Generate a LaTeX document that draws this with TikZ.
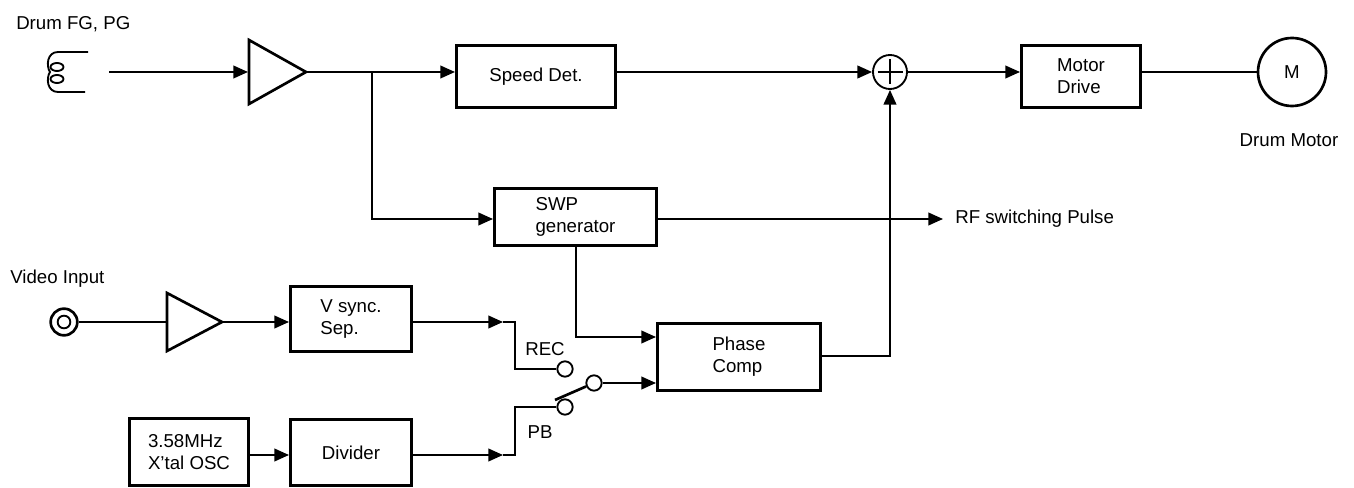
\documentclass[tikz,border=0pt]{standalone}
\usepackage{fontspec}
\setmainfont{Liberation Sans}
\usetikzlibrary{arrows.meta,calc}
\tikzset{
  legend/.style={font=\fontsize{14}{16.5}\selectfont},
  blockbox/.style={draw,line width=2pt,align=left,legend},
  ampbody/.style={draw,line width=2pt},
  wire/.style={line width=1.4pt},
  feed/.style={wire,-{Triangle[length=11pt,width=9.5pt]}},
  contact/.style={draw,circle,line width=1.4pt,fill=white,minimum size=11.5pt,inner sep=0pt},
  tag/.style={legend,inner sep=0pt}
}
\begin{document}
\begin{tikzpicture}[x=0.75pt,y=-0.75pt]
  \useasboundingbox (0,0) rectangle (1354,488);
  % pickup coil
  \draw[wire] (88,52) -- (58,52) .. controls (47,52) and (46,66) .. (50,72)
    .. controls (46,78) and (47,92) .. (58,92) -- (85,92);
  \draw[wire] (57,67) ellipse (6.5 and 4);
  \draw[wire] (57,79) ellipse (6.5 and 4);
  \node[tag,anchor=west] (drumfg) at (16,24) {Drum FG, PG};
  \coordinate (pickup) at (109,72);
  % amplifier triangles
  \draw[ampbody] (249,40) -- (306,72) -- (249,104) -- cycle;
  \draw[ampbody] (167,293) -- (222,322) -- (167,351) -- cycle;
  \coordinate (ampa) at (248,72);
  \coordinate (ampaout) at (306,72);
  \coordinate (ampb) at (167,322);
  \coordinate (ampbout) at (222,322);
  % blocks
  \node[blockbox,minimum width=119.5pt,minimum height=46.75pt] (speed) at (536,76.5) {Speed Det.};
  \node[blockbox,minimum width=89.5pt,minimum height=46.75pt] (drive) at (1081,76.5) {Motor\\Drive};
  \node[blockbox,minimum width=121.75pt,minimum height=43pt] (swp) at (575.5,217) {SWP\\generator};
  \node[blockbox,minimum width=122.5pt,minimum height=50.5pt] (phase) at (739,357) {Phase\\Comp};
  \node[blockbox,minimum width=91pt,minimum height=49pt] (vsync) at (351,319) {V sync.\\Sep.};
  \node[blockbox,minimum width=91pt,minimum height=49.75pt] (divider) at (351,452.5) {Divider};
  \node[blockbox,minimum width=89.5pt,minimum height=50.5pt] (osc) at (189,452) {3.58MHz\\X'tal OSC};
  % summing point and motor
  \node[draw,circle,line width=1.4pt,minimum size=25.5pt,inner sep=0pt] (sum) at (890,72) {};
  \draw[wire] ($(sum)+(-12.5,0)$) -- ($(sum)+(12.5,0)$) ($(sum)+(0,-12.5)$) -- ($(sum)+(0,12.5)$);
  \node[draw,circle,line width=2pt,minimum size=51pt,inner sep=0pt,legend] (motor) at (1292,72) {M};
  \node[tag] (drummotor) at (1289,140) {Drum Motor};
  % video jack
  \node[draw,circle,line width=2pt,minimum size=20pt,inner sep=0pt] (jack) at (64,322) {};
  \node[draw,circle,line width=1.4pt,minimum size=9.5pt,inner sep=0pt] (jackin) at (64,322) {};
  \node[tag,anchor=west] (videoin) at (10,278.5) {Video Input};
  % upper signal path
  \coordinate (tap) at (372,72);
  \coordinate (swpin) at (372,219);
  \coordinate (rfend) at (943,219);
  \draw[feed] (pickup) -- (ampa);
  \draw[wire] (ampaout) -- (tap);
  \draw[feed] (tap) -- (speed.west |- tap);
  \draw[feed] (speed.east |- tap) -- (sum.west);
  \draw[feed] (sum.east) -- (drive.west |- sum.east);
  \draw[wire] (drive.east |- motor.west) -- (motor.west);
  \draw[feed] (tap) -- (swpin) -- (swp.west |- swpin);
  \draw[feed] (swp.east |- swpin) -- (rfend);
  \node[tag,anchor=west] (rfout) at (955,219) {RF switching Pulse};
  % lower signal path
  \coordinate (oscline) at (250,455);
  \draw[wire] (jack) -- (ampb);
  \draw[feed] (ampbout) -- (vsync.west |- ampbout);
  \draw[feed] (oscline) -- (divider.west |- oscline);
  % switch
  \node[contact] (rec) at (565,369) {};
  \node[contact] (pb) at (565,407) {};
  \node[contact] (pole) at (594,383) {};
  \coordinate (bladeend) at (555,400);
  \draw[line width=2pt] (pole) -- (bladeend);
  \node[tag] (reclabel) at (545,349) {REC};
  \node[tag] (pblabel) at (540,432) {PB};
  \coordinate (recarrow) at (503,322);
  \coordinate (recbend) at (515,322);
  \coordinate (pbarrow) at (503,455);
  \coordinate (pbbend) at (515,455);
  \draw[feed] (vsync.east |- recarrow) -- (recarrow);
  \draw[wire] (recarrow) -- (recbend) -- (recbend |- rec) -- (rec);
  \draw[feed] (divider.east |- pbarrow) -- (pbarrow);
  \draw[wire] (pbarrow) -- (pbbend) -- (pbbend |- pb) -- (pb);
  \draw[feed] (pole) -- (phase.west |- pole);
  % reference pulse and error signal
  \coordinate (swpdown) at (576,337);
  \coordinate (errbend) at (890,356);
  \draw[feed] (swpdown |- swp.south) -- (swpdown) -- (phase.west |- swpdown);
  \draw[feed] (phase.east |- errbend) -- (errbend) -- (sum.south);
\end{tikzpicture}
\end{document}
